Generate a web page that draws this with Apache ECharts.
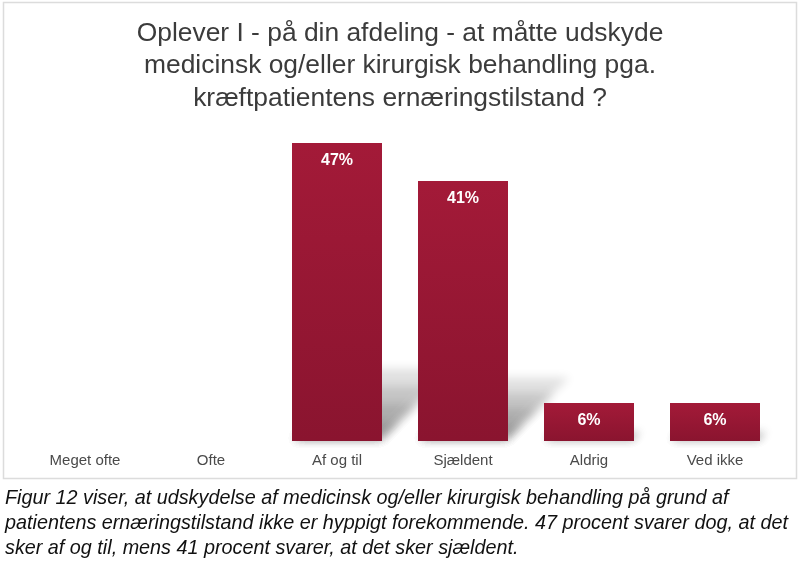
<!DOCTYPE html>
<html lang="da">
<head>
    <meta charset="utf-8">
    <title>ECharts</title>
    <script src="https://cdn.jsdelivr.net/npm/echarts@6/dist/echarts.min.js"></script>
    <style>
        html, body {margin: 0; padding: 0; background: #fff;}
        #main {width: 800px; height: 573px;}
    </style>
</head>
<body>
<div id="main"></div>
<script type="text/javascript">
    // data
    var categories = ['Meget ofte', 'Ofte', 'Af og til', 'Sjældent', 'Aldrig', 'Ved ikke'];
    var percents = [0, 0, 47, 41, 6, 6];
    var titleLines = [
        'Oplever I - på din afdeling - at måtte udskyde',
        'medicinsk og/eller kirurgisk behandling pga.',
        'kræftpatientens ernæringstilstand ?'
    ];
    var captionLines = [
        'Figur 12 viser, at udskydelse af medicinsk og/eller kirurgisk behandling på grund af',
        'patientens ernæringstilstand ikke er hyppigt forekommende. 47 procent svarer dog, at det',
        'sker af og til, mens 41 procent svarer, at det sker sjældent.'
    ];

    var myChart = echarts.init(document.getElementById('main'));

    // soft floor shadow behind each bar, built from the bar's own coordinates.
    // the shapes sit off screen and only their blurred shadow is moved back in
    var OFF = 3000;
    function renderShadow(params, api) {
        var v = api.value(1);
        if (!v) return;
        var top = api.coord([api.value(0), v]);
        var base = api.coord([api.value(0), 0]);
        var half = 44;
        var h = base[1] - top[1];
        var x0 = base[0] - half, x1 = base[0] + half, y0 = base[1] - 1;
        var parts = [1, 0.75, 0.5, 0.25].map(function (f) {
            var d = h * 0.24 * f;
            return {
                type: 'polygon',
                shape: {points: [[x0 - OFF, y0], [x1 - OFF, y0], [x1 + d - OFF, y0 - d], [x0 + d - OFF, y0 - d]]},
                style: {
                    fill: '#000',
                    shadowBlur: 10,
                    shadowOffsetX: OFF,
                    shadowColor: 'rgba(0,0,0,0.12)'
                }
            };
        });
        return {type: 'group', children: parts};
    }

    var option = {
        animation: false,
        backgroundColor: '#fff',
        title: {
            text: titleLines.join('\n'),
            left: 'center',
            top: 12,
            textStyle: {
                fontFamily: 'Liberation Sans, Arial, sans-serif',
                fontSize: 26.4,
                fontWeight: 'normal',
                color: '#3b3b3b',
                lineHeight: 32.5
            }
        },
        grid: {left: 22, right: 22, top: 143, bottom: 132},
        xAxis: {
            type: 'category',
            data: categories,
            axisLine: {show: false},
            axisTick: {show: false},
            axisLabel: {
                margin: 12,
                fontFamily: 'Liberation Sans, Arial, sans-serif',
                fontSize: 15,
                color: '#4a4a4a'
            }
        },
        yAxis: {
            type: 'value',
            min: 0,
            max: 47,
            show: false
        },
        series: [
            {
                type: 'custom',
                renderItem: renderShadow,
                data: percents.map(function (v, i) { return [i, v]; }),
                z: 1,
                silent: true
            },
            {
                type: 'bar',
                data: percents,
                barWidth: 90,
                z: 2,
                itemStyle: {
                    color: new echarts.graphic.LinearGradient(0, 0, 0, 1, [
                        {offset: 0, color: '#a31a38'},
                        {offset: 1, color: '#8a142f'}
                    ])
                },
                label: {
                    show: true,
                    position: 'insideTop',
                    distance: 10,
                    formatter: function (p) { return p.value ? p.value + '%' : ''; },
                    fontFamily: 'Liberation Sans, Arial, sans-serif',
                    fontSize: 16,
                    fontWeight: 'bold',
                    color: '#fff'
                }
            }
        ],
        graphic: [
            {
                type: 'rect',
                shape: {x: 3.5, y: 2.5, width: 793, height: 476},
                style: {fill: 'none', stroke: '#dcdcdc', lineWidth: 1.5},
                z: 0
            },
            {
                type: 'text',
                left: 5,
                top: 486,
                style: {
                    text: captionLines.join('\n'),
                    font: 'italic 19.8px "Liberation Sans Narrow", "Liberation Sans", Arial, sans-serif',
                    lineHeight: 25,
                    fill: '#111'
                }
            }
        ]
    };
    myChart.setOption(option);
</script>
</body>
</html>
